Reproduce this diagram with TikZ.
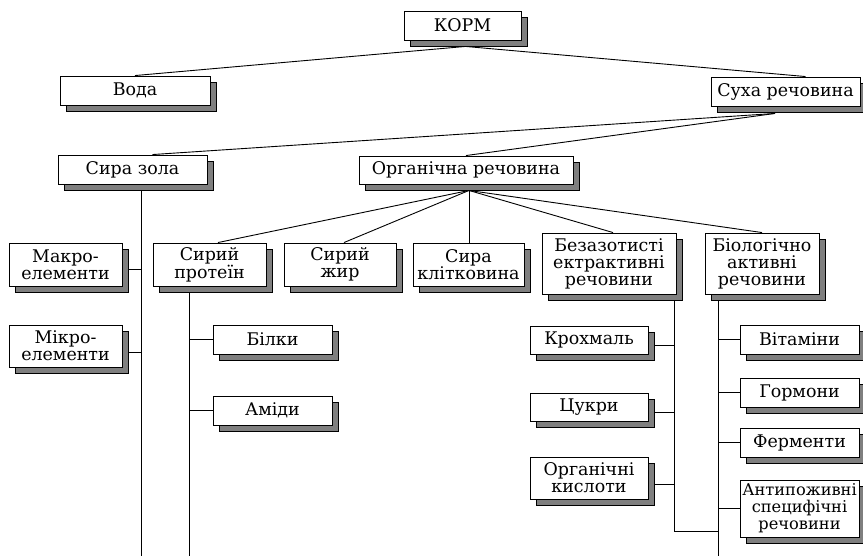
\documentclass[tikz,border=0pt]{standalone}
\usepackage{fontspec}
\setmainfont{DejaVu Serif}
\usetikzlibrary{shadows,backgrounds,calc}
\definecolor{shadowgray}{HTML}{7F7F7F}
\tikzset{
  box/.style={draw=black, fill=white, line width=0.9bp, inner sep=0pt, align=center,
    font=\fontsize{17.5}{17}\selectfont,
    general shadow={fill=shadowgray, draw=black, line width=0.9bp, shadow xshift=6bp, shadow yshift=-6bp}},
  wh/.style 2 args={minimum width=#1bp, minimum height=#2bp},
  conn/.style={line width=0.9bp, draw=black}
}
\begin{document}
\begin{tikzpicture}[x=1bp, y=-1bp]
\useasboundingbox (0,0) rectangle (863,556);
\coordinate (bot) at (0,556);
% level 0-1
\node[box, wh={117}{29}] (korm) at (462.5,25.5) {КОРМ};
\node[box, wh={150}{29}] (voda) at (135,90.5) {Вода};
\node[box, wh={149}{29}] (suha) at (785.5,91.5) {Суха речовина};
% level 2
\node[box, wh={149}{29}] (zola) at (132.5,169.5) {Сира зола};
\node[box, wh={214}{28}] (org) at (466,170) {Органічна речовина};
% level 3
\node[box, wh={113}{43}] (makro) at (65.5,264.5) {Макро-\\елементи};
\node[box, wh={113}{42}] (mikro) at (65.5,346) {Мікро-\\елементи};
\node[box, wh={113}{43}] (protein) at (209.5,264.5) {Сирий\\протеїн};
\node[box, wh={112}{43}] (zhyr) at (340,264.5) {Сирий\\жир};
\node[box, wh={111}{43}] (klit) at (468.5,264.5) {Сира\\клітковина};
\node[box, wh={134}{61}] (bezaz) at (609,263.5) {Безазотисті\\ектрактивні\\речовини};
\node[box, wh={114}{61}] (biol) at (762,263.5) {Біологічно\\активні\\речовини};
% level 4
\node[box, wh={119}{29}] (bilky) at (272.5,339.5) {Білки};
\node[box, wh={119}{29}] (amidy) at (272.5,410.5) {Аміди};
\node[box, wh={118}{28}] (krokh) at (589,340) {Крохмаль};
\node[box, wh={118}{28}] (tsukry) at (589,407) {Цукри};
\node[box, wh={118}{42}] (kysl) at (589,478) {Органічні\\кислоти};
\node[box, wh={119}{29}] (vitam) at (799.5,339.5) {Вітаміни};
\node[box, wh={119}{29}] (horm) at (799.5,392.5) {Гормони};
\node[box, wh={119}{29}] (ferm) at (799.5,442.5) {Ферменти};
\node[box, wh={119}{57}, font=\fontsize{16.3}{17}\selectfont] (anti) at (799.5,508.5) {Антипоживні\\специфічні\\речовини};

\begin{pgfonlayer}{background}
% top connectors
\coordinate (kormout) at ($(korm.south)+(3,6)$);
\draw[conn] (kormout) -- (voda.north);
\draw[conn] (kormout) -- ($(suha.north)+(20,0)$);
\coordinate (suhaout) at ($(suha.south)+(-10.5,7)$);
\draw[conn] (suhaout) -- ($(zola.north)+(20,0)$);
\draw[conn] (suhaout) -- (org.north);
\coordinate (orgout) at ($(org.south)+(3,6)$);
\draw[conn] (orgout) -- ($(protein.north)+(8.5,0)$);
\draw[conn] (orgout) -- ($(zhyr.north)+(4,0)$);
\draw[conn] (orgout) -- (orgout |- klit.north);
\draw[conn] (orgout) -- ($(bezaz.north)+(4,0)$);
\draw[conn] (orgout) -- (biol.north);
% Сира зола trunk
\coordinate (zt) at ($(zola.south)+(8.5,7)$);
\draw[conn] (zt) -- (zt |- bot);
\draw[conn] ($(makro.east)+(6,4.5)$) coordinate (m1) -- (m1 -| zt);
\draw[conn] ($(mikro.east)+(6,6)$) coordinate (m2) -- (m2 -| zt);
% Сирий протеїн trunk
\coordinate (pt) at ($(protein.south)+(-20.5,6)$);
\draw[conn] (pt) -- (pt |- bot);
\draw[conn] (bilky.west) -- (bilky.west -| pt);
\draw[conn] (amidy.west) -- (amidy.west -| pt);
% Безазотисті trunk
\coordinate (bt) at ($(bezaz.south)+(65,7)$);
\coordinate (bend) at (674,531);
\coordinate (at) at ($(biol.south)+(-44,7)$);
\draw[conn] (bt) -- (bt |- bend) -- (bend -| at);
\draw[conn] ($(krokh.east)+(6,5)$) coordinate (k1) -- (k1 -| bt);
\draw[conn] ($(tsukry.east)+(6,5)$) coordinate (k2) -- (k2 -| bt);
\draw[conn] ($(kysl.east)+(6,6)$) coordinate (k3) -- (k3 -| bt);
% Біологічно trunk
\draw[conn] (at) -- (at |- bot);
\draw[conn] (vitam.west) -- (vitam.west -| at);
\draw[conn] (horm.west) -- (horm.west -| at);
\draw[conn] (ferm.west) -- (ferm.west -| at);
\draw[conn] (anti.west) -- (anti.west -| at);
\end{pgfonlayer}
\end{tikzpicture}
\end{document}
